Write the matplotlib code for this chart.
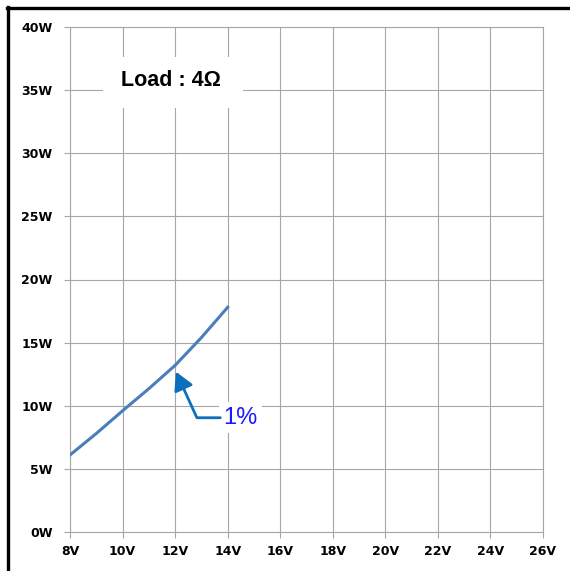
import matplotlib
matplotlib.use('Agg')
import matplotlib.pyplot as plt
from matplotlib.lines import Line2D
from matplotlib.patches import Rectangle

# output power vs supply voltage at 1% THD, 4 ohm load
voltage = [8, 9, 10, 11, 12, 13, 14]
power = [6.1, 7.8, 9.6, 11.35, 13.2, 15.4, 17.8]

x_ticks = list(range(8, 27, 2))
y_ticks = list(range(0, 41, 5))
x_labels = [f'{v}V' for v in x_ticks]
y_labels = [f'{w}W' for w in y_ticks]

grid_col = '#a6a6a6'

fig = plt.figure(figsize=(5.7, 5.71), dpi=100)
ax = fig.add_axes([70 / 570, 1 - 532 / 571, 473 / 570, 505 / 571])

ax.set_xlim(8, 26)
ax.set_ylim(0, 40)
ax.set_xticks(x_ticks)
ax.set_yticks(y_ticks)
ax.set_xticklabels(x_labels, fontfamily='DejaVu Sans', fontweight='bold', fontsize=9)
ax.set_yticklabels(y_labels, fontfamily='DejaVu Sans', fontweight='bold', fontsize=9)
ax.tick_params(axis='both', color=grid_col, length=4.5, width=0.8)
ax.tick_params(axis='x', pad=5)
ax.tick_params(axis='y', pad=8)
ax.set_axisbelow(True)
ax.grid(True, color=grid_col, linewidth=0.8)
for s in ax.spines.values():
    s.set_color(grid_col)
    s.set_linewidth(0.8)

ax.plot(voltage, power, color='#4a7ebb', linewidth=2.2, zorder=3)

# "Load" label box covering the grid
ax.add_patch(Rectangle((9.26, 33.6), 5.32, 4.0, facecolor='white',
                       edgecolor='none', zorder=1))
ax.text(11.84, 35.75, 'Load : 4Ω', ha='center', va='center',
        fontfamily='Liberation Sans', fontweight='bold', fontsize=15.5, zorder=4)

# 1% annotation
ax.text(14.5, 9.05, '1%', ha='center', va='center', color='#1a1aff',
        fontfamily='Liberation Sans', fontsize=17, zorder=4,
        bbox=dict(facecolor='white', edgecolor='none', pad=3))
ax.annotate('', xy=(12.03, 12.7), xytext=(13.72, 9.05),
            arrowprops=dict(arrowstyle='-|>,head_length=0.55,head_width=0.3',
                            mutation_scale=20, color='#0b6fbd', linewidth=2,
                            shrinkA=0, shrinkB=0,
                            connectionstyle='angle,angleA=0,angleB=114.5,rad=0'),
            zorder=4)

# outer frame (top and left edges only)
fig.add_artist(Line2D([7 / 570, 1], [1 - 8 / 571, 1 - 8 / 571], color='black',
                      linewidth=2.4, transform=fig.transFigure))
fig.add_artist(Line2D([8 / 570, 8 / 570], [0, 1 - 7 / 571], color='black',
                      linewidth=2.4, transform=fig.transFigure))

fig.savefig('out.png', dpi=100)
